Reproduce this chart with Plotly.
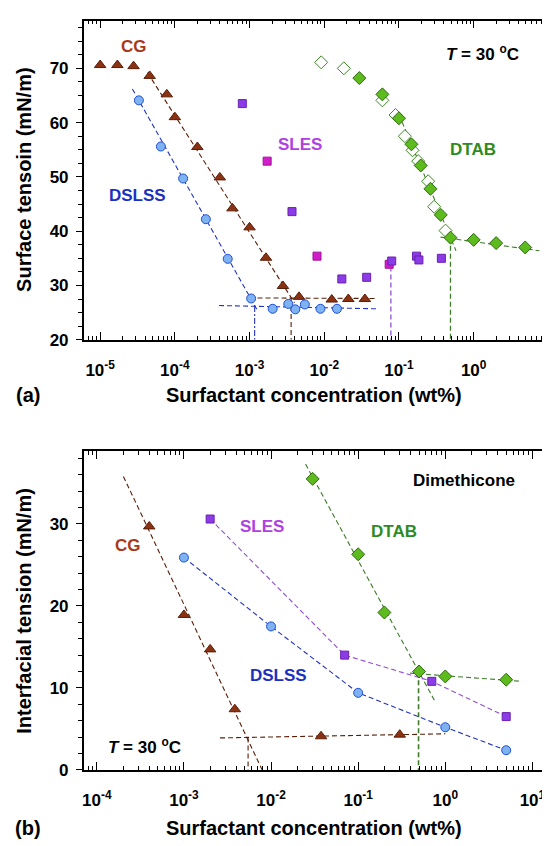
import numpy as np
import plotly.graph_objects as go

# ---- panel (a): surface tension ----
cg_a_x = [1e-5, 1.7e-5, 2.8e-5, 4.6e-5, 7.8e-5, 1.0e-4, 2.0e-4, 4.0e-4, 5.9e-4,
          1.0e-3, 1.66e-3, 2.8e-3, 4.6e-3, 1.26e-2, 2.1e-2, 3.5e-2]
cg_a_y = [70.6, 70.6, 70.4, 68.6, 65.2, 61.0, 55.5, 49.9, 44.2,
          40.7, 35.1, 29.9, 27.9, 27.4, 27.5, 27.5]

dslss_a_x = [3.3e-5, 6.5e-5, 1.29e-4, 2.6e-4, 5.1e-4, 1.05e-3, 2.04e-3, 3.3e-3,
             4.1e-3, 5.5e-3, 8.9e-3, 1.48e-2]
dslss_a_y = [64.1, 55.6, 49.7, 42.2, 34.9, 27.6, 25.7, 26.6, 25.6, 26.5, 25.7, 25.7]

sles_a1_x = [1.72e-3, 8e-3, 7.4e-2]
sles_a1_y = [52.9, 35.4, 33.9]
sles_a2_x = [8e-4, 3.7e-3, 1.72e-2, 3.7e-2, 8e-2, 0.172, 0.185, 0.37]
sles_a2_y = [63.5, 43.6, 31.2, 31.5, 34.5, 35.4, 34.7, 35.0]

dtab_open_x = [9.1e-3, 1.83e-2, 6.0e-2, 9.0e-2, 0.12, 0.152, 0.181, 0.246, 0.296, 0.42]
dtab_open_y = [71.1, 70.0, 64.1, 61.4, 57.5, 54.9, 52.9, 49.2, 44.5, 40.1]
dtab_fill_x = [2.95e-2, 6.0e-2, 0.1, 0.147, 0.196, 0.264, 0.363, 0.49, 1.0, 2.0, 4.9]
dtab_fill_y = [68.2, 65.2, 60.8, 56.0, 52.1, 47.8, 43.0, 38.8, 38.4, 37.8, 37.0]

# fitted lines and cmc markers (a)
cg_a_fit1 = ([4.3e-5, 4.0e-3], [69.2, 26.8])
cg_a_fit2 = ([1.0e-3, 5.0e-2], [27.7, 27.6])
cg_a_cmc = ([3.6e-3, 3.6e-3], [27.7, 20])
dslss_a_fit1 = ([2.7e-5, 1.3e-3], [66.2, 25.2])
dslss_a_fit2 = ([3.9e-4, 5.0e-2], [26.3, 25.7])
dslss_a_cmc = ([1.17e-3, 1.17e-3], [26.2, 20])
sles_a_cmc = ([7.8e-2, 7.8e-2], [33.5, 20])
dtab_a_fit1 = ([0.1, 0.58], [61.5, 36.4])
dtab_a_fit2 = ([0.36, 7.6], [38.9, 36.4])
dtab_a_cmc = ([0.49, 0.49], [38.8, 20])

# ---- panel (b): interfacial tension vs dimethicone ----
cg_b_x = [4e-4, 1e-3, 2e-3, 3.84e-3, 3.75e-2, 0.3]
cg_b_y = [29.7, 18.9, 14.7, 7.4, 4.1, 4.3]
dslss_b_x = [1e-3, 1e-2, 0.1, 1, 5]
dslss_b_y = [25.9, 17.5, 9.4, 5.2, 2.4]
sles_b_x = [2e-3, 0.07, 0.7, 5]
sles_b_y = [30.6, 14.0, 10.8, 6.5]
dtab_b_x = [0.03, 0.1, 0.2, 0.5, 1, 5]
dtab_b_y = [35.5, 26.3, 19.2, 12.0, 11.4, 11.0]

cg_b_fit1 = ([2.02e-4, 7.9e-3], [35.8, 0])
cg_b_fit2 = ([2.6e-3, 1.0], [3.9, 4.4])
cg_b_cmc = ([5.45e-3, 5.45e-3], [3.95, 0])
dtab_b_fit1 = ([0.0249, 0.776], [37.3, 8.2])
dtab_b_fit2 = ([0.395, 7.48], [11.8, 10.8])
dtab_b_cmc = ([0.493, 0.493], [11.9, 0])

# colours
C_CG, C_CG_EDGE, C_CG_TXT = "#8B3212", "#5A1E08", "#A8381A"
C_DS_FILL, C_DS_EDGE, C_DS_LINE = "#7FB2F0", "#1E50D8", "#2233C0"
C_SL1, C_SL2, C_SL_EDGE, C_SL_LINE = "#D21EC8", "#8C3CE6", "#6A1FB0", "#9050D0"
C_DT_FILL, C_DT_EDGE, C_DT_LINE, C_DT_TXT = "#5DBB1E", "#2E6B10", "#3E7A2A", "#2E8B22"

FONT = "Liberation Sans, Arial, sans-serif"
DASH = "5px,3px"

fig = go.Figure()


def line(xy, color, ax, width=1.1, dash=DASH):
  fig.add_trace(go.Scatter(x=xy[0], y=xy[1], mode="lines", xaxis=ax[0], yaxis=ax[1],
                           line=dict(color=color, width=width, dash=dash),
                           showlegend=False, hoverinfo="skip"))


def pts(x, y, ax, symbol, fill, edge, size=9, mode="markers", lcolor=None):
  fig.add_trace(go.Scatter(
      x=x, y=y, mode=mode, xaxis=ax[0], yaxis=ax[1], showlegend=False,
      marker=dict(symbol=symbol, size=size, color=fill,
                  line=dict(color=edge, width=1)),
      line=dict(color=lcolor or edge, width=1.1, dash=DASH)))


A = ("x", "y")
B = ("x2", "y2")

# panel (a)
line(cg_a_fit1, C_CG_EDGE, A)
line(cg_a_fit2, C_CG_EDGE, A)
line(cg_a_cmc, C_CG_EDGE, A)
line(dslss_a_fit1, C_DS_LINE, A)
line(dslss_a_fit2, C_DS_LINE, A)
line(dslss_a_cmc, C_DS_LINE, A, dash="6px,2px,2px,2px")
line(sles_a_cmc, C_SL_LINE, A, width=1.3)
line(dtab_a_fit1, C_DT_LINE, A)
line(dtab_a_fit2, C_DT_LINE, A)
line(dtab_a_cmc, C_DT_LINE, A, width=1.3)

pts(cg_a_x, cg_a_y, A, "triangle-up", C_CG, C_CG_EDGE, size=10)
pts(dslss_a_x, dslss_a_y, A, "circle", C_DS_FILL, C_DS_EDGE)
pts(sles_a1_x, sles_a1_y, A, "square", C_SL1, "#A0109A", size=8)
pts(sles_a2_x, sles_a2_y, A, "square", C_SL2, C_SL_EDGE, size=8)
pts(dtab_open_x, dtab_open_y, A, "diamond", "white", "#3A8A20", size=10)
pts(dtab_fill_x, dtab_fill_y, A, "diamond", C_DT_FILL, C_DT_EDGE, size=10)

# panel (b)
line(cg_b_fit1, C_CG_EDGE, B)
line(cg_b_fit2, C_CG_EDGE, B)
line(cg_b_cmc, C_CG_EDGE, B)
line(dtab_b_fit1, C_DT_LINE, B)
line(dtab_b_fit2, C_DT_LINE, B)
line(dtab_b_cmc, C_DT_LINE, B, width=1.6)

pts(cg_b_x, cg_b_y, B, "triangle-up", C_CG, C_CG_EDGE, size=10)
pts(dslss_b_x, dslss_b_y, B, "circle", C_DS_FILL, C_DS_EDGE, mode="lines+markers",
    lcolor=C_DS_LINE)
pts(sles_b_x, sles_b_y, B, "square", C_SL2, C_SL_EDGE, size=8, mode="lines+markers",
    lcolor=C_SL_LINE)
pts(dtab_b_x, dtab_b_y, B, "diamond", C_DT_FILL, C_DT_EDGE, size=10)

# axes
def minor_vals(lo, hi):
  return [m * 10.0 ** e for e in range(lo, hi) for m in range(2, 10)]


def xaxis(domain, lo, hi, rng, anchor):
  return dict(
      type="log", domain=domain, range=rng, anchor=anchor,
      tickvals=[10.0 ** e for e in range(lo, hi + 1)],
      ticktext=[f"10<sup>{e}</sup>" for e in range(lo, hi + 1)],
      ticks="inside", ticklen=8, tickwidth=1.2, tickcolor="black",
      ticklabelstandoff=14,
      minor=dict(tickvals=minor_vals(lo - 1, hi + 1), ticks="inside",
                 ticklen=4, tickwidth=1, tickcolor="black"),
      showline=True, linecolor="black", linewidth=1.5, mirror="allticks",
      showgrid=False, zeroline=False,
      tickfont=dict(family=FONT, size=17, color="black", weight="bold"))


def yaxis(domain, rng, dtick, minor, anchor):
  return dict(
      domain=domain, range=rng, anchor=anchor, dtick=dtick, tick0=0,
      ticks="outside", ticklen=6, tickwidth=1.2, tickcolor="black",
      ticklabelstandoff=4,
      minor=dict(dtick=minor, tick0=0, ticks="outside", ticklen=4,
                 tickwidth=1, tickcolor="black"),
      showline=True, linecolor="black", linewidth=1.5, mirror="allticks",
      showgrid=False, zeroline=False,
      tickfont=dict(family=FONT, size=17, color="black", weight="bold"))


X_DOM = [74 / 550, 537 / 550]
fig.update_layout(
    width=550, height=846,
    margin=dict(l=0, r=0, t=0, b=0),
    paper_bgcolor="white", plot_bgcolor="white",
    xaxis=xaxis(X_DOM, -5, 0, [-5.22, 0.956], "y"),
    yaxis=yaxis([1 - 335.7 / 846, 1 - 12.7 / 846], [20, 78.8], 10, 2.5, "x"),
    xaxis2=xaxis(X_DOM, -4, 1, [-4.15, 1.145], "y2"),
    yaxis2=yaxis([1 - 771 / 846, 1 - 448.3 / 846], [0, 38.9], 10, 2, "x2"),
)


def label(text, x, y, color, ax, size=17):
  fig.add_annotation(text=text, x=np.log10(x), y=y, xref=ax[0], yref=ax[1],
                     showarrow=False, xanchor="center", yanchor="middle",
                     font=dict(family=FONT, size=size, color=color, weight="bold"))


def ptext(text, x, y, size=20, angle=0):
  fig.add_annotation(text=text, x=x, y=y, xref="paper", yref="paper",
                     showarrow=False, textangle=angle,
                     xanchor="center", yanchor="middle",
                     font=dict(family=FONT, size=size, color="black", weight="bold"))


label("CG", 10 ** -4.543, 73.95, C_CG_TXT, A)
label("DSLSS", 10 ** -4.503, 46.5, "#1B2FC0", A)
label("SLES", 10 ** -2.329, 55.95, "#B040E0", A)
label("DTAB", 10 ** -0.009, 55.0, C_DT_TXT, A)
label("<i>T</i> = 30 <sup>o</sup>C", 10 ** 0.115, 72.85, "black", A)

label("CG", 10 ** -3.645, 27.43, C_CG_TXT, B)
label("SLES", 10 ** -2.101, 29.72, "#B040E0", B)
label("DTAB", 10 ** -0.586, 29.04, C_DT_TXT, B)
label("DSLSS", 10 ** -1.91, 11.57, "#1B2FC0", B)
label("Dimethicone", 10 ** 0.219, 35.27, "black", B)
label("<i>T</i> = 30 <sup>o</sup>C", 10 ** -3.454, 2.93, "black", B)

ptext("Surfactant concentration (wt%)", 305.5 / 550, 1 - 392 / 846)
ptext("Surfactant concentration (wt%)", 305.5 / 550, 1 - 830 / 846)
ptext("Surface tensoin (mN/m)", 14 / 550, 1 - 174 / 846, angle=-90)
ptext("Interfacial tension (mN/m)", 14 / 550, 1 - 610 / 846, angle=-90)
ptext("(a)", 18 / 550, 1 - 392 / 846)
ptext("(b)", 18 / 550, 1 - 830 / 846)

fig.write_html("out.html")
